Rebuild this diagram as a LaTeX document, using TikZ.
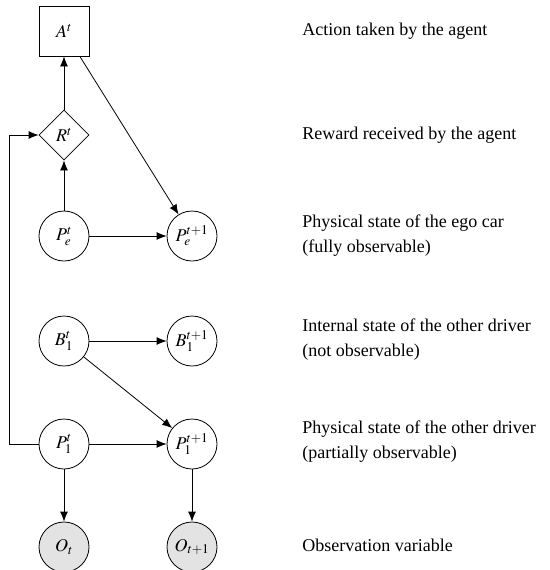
\documentclass[tikz,border=0pt]{standalone}
\usepackage{mathptmx}
\usepackage{fontspec}
\setmainfont{Liberation Serif}
\usetikzlibrary{arrows.meta,shapes.geometric}
\begin{document}
\begin{tikzpicture}[x=1pt, y=-1pt, line width=0.8pt, >={Latex[length=10pt,width=8pt]},
                    every node/.style={font=\fontsize{18}{25}\selectfont},
                    var/.style={circle, draw, fill=white, minimum size=50pt, inner sep=0pt},
                    obs/.style={var, fill=gray!22},
                    desc/.style={anchor=west, align=left, inner sep=0pt}]
                    \useasboundingbox (0,0) rectangle (549,570);
                    \node[draw, minimum size=50pt, inner sep=0pt] (A) at (64,31) {$A^t$};
                    \node[diamond, draw, minimum size=50pt, inner sep=0pt] (R) at (64,135) {$R^t$};
                    \node[var] (Pe) at (64,236) {$P_e^t$};
                    \node[var] (Pe1) at (192,236) {$P_e^{t+1}$};
                    \node[var] (B) at (64,341) {$B_1^t$};
                    \node[var] (B1) at (192,341) {$B_1^{t+1}$};
                    \node[var] (P) at (64,444) {$P_1^t$};
                    \node[var] (P1) at (192,444) {$P_1^{t+1}$};
                    \node[obs] (O) at (64,547) {$O_t$};
                    \node[obs] (O1) at (192,547) {$O_{t+1}$};
                    \node[desc] (dA) at (302,31) {Action taken by the agent};
                    \node[desc] (dR) at (302,135) {Reward received by the agent};
                    \node[desc] (dPe) at (302,236) {Physical state of the ego car\\(fully observable)};
                    \node[desc] (dB) at (302,340) {Internal state of the other driver\\(not observable)};
                    \node[desc] (dP) at (302,442) {Physical state of the other driver\\(partially observable)};
                    \node[desc] (dO) at (302,545) {Observation variable};
                    \draw[->] (R) -- (A);
                    \draw[->] (Pe) -- (R);
                    \draw[->] (A) -- (Pe1);
                    \draw[->] (Pe) -- (Pe1);
                    \draw[->] (B) -- (B1);
                    \draw[->] (B) -- (P1);
                    \draw[->] (P) -- (P1);
                    \draw[->] (P) -- (O);
                    \draw[->] (P1) -- (O1);
                    \draw[->] (P.west) -- ++(-29,0) |- (R.west);
                \end{tikzpicture}
\end{document}
